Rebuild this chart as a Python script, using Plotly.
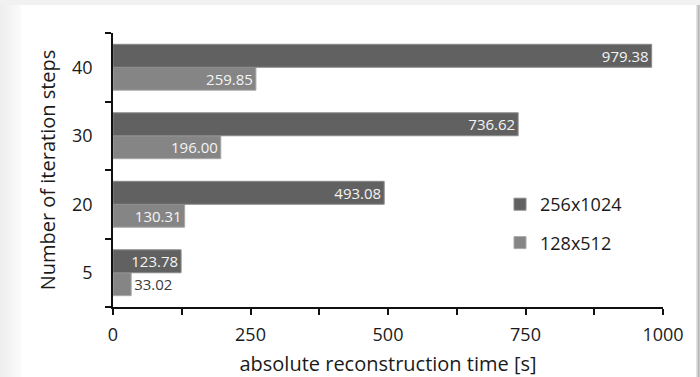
import plotly.graph_objects as go

# Iteration step counts (categories) and absolute reconstruction times in seconds
steps = ["5", "20", "30", "40"]
time_256x1024 = [123.78, 493.08, 736.62, 979.38]
time_128x512 = [33.02, 130.31, 196.00, 259.85]
series_names = ["256x1024", "128x512"]
x_tickvals = [0, 125, 250, 375, 500, 625, 750, 875, 1000]
x_ticktext = ["0", "", "250", "", "500", "", "750", "", "1000"]

FONT = "Open Sans"
TXT = "#1a1a1a"
W, H = 700, 377
L, R, T, B = 113, 37, 33, 70
PW, PH = W - L - R, H - T - B


def px(x):
    """Pixel column -> paper x."""
    return (x - L) / PW


def py(y):
    """Pixel row -> paper y."""
    return 1 - (y - T) / PH


def fmt(v):
    return f"{v:.2f}"


def bar(name, values, color, edge, rank, group):
    return go.Bar(
        name=name, y=steps, x=values, orientation="h",
        marker=dict(color=color, line=dict(color=edge, width=1)),
        text=[fmt(v) for v in values], textposition="auto",
        insidetextanchor="end", constraintext="none",
        insidetextfont=dict(family=FONT, size=15, color="#f4f4f4"),
        outsidetextfont=dict(family=FONT, size=15, color="#3a3a3a"),
        legendrank=rank, legendgroup=group,
    )


fig = go.Figure()
# first trace sits lowest inside each category group
fig.add_trace(bar(series_names[1], time_128x512, "#858585", "#a8a8a8", 2, "b"))
fig.add_trace(bar(series_names[0], time_256x1024, "#616161", "#8a8a8a", 1, "a"))

# Framed panel: light grey surround with a soft shadow on the right
shapes = []
shapes.append(dict(type="rect", xref="paper", yref="paper", layer="below",
                   x0=px(0), x1=px(W), y0=py(0), y1=py(H),
                   fillcolor="#f1f1f1", line=dict(width=0)))
left_greys = ["#eeeeee", "#f0f0f0", "#f2f2f2", "#f4f4f4", "#f6f6f6", "#f8f8f8", "#fafafa"]
for i, c in enumerate(left_greys):
    shapes.append(dict(type="rect", xref="paper", yref="paper", layer="below",
                       x0=px(i * 3), x1=px(i * 3 + 3), y0=py(5), y1=py(H),
                       fillcolor=c, line=dict(width=0)))
shapes.append(dict(type="rect", xref="paper", yref="paper", layer="below",
                   x0=px(21), x1=px(696), y0=py(5), y1=py(H),
                   fillcolor="white", line=dict(width=0)))
right_greys = ["#e4e4e4", "#cfcfcf", "#b8b8b8", "#c8c8c8"]
for i, c in enumerate(right_greys):
    shapes.append(dict(type="rect", xref="paper", yref="paper", layer="below",
                       x0=px(696 + i), x1=px(697 + i), y0=py(5), y1=py(H),
                       fillcolor=c, line=dict(width=0)))

fig.update_layout(
    width=W, height=H,
    margin=dict(l=L, r=R, t=T, b=B, pad=0),
    paper_bgcolor="white", plot_bgcolor="rgba(0,0,0,0)",
    barmode="group", bargap=0.33, bargroupgap=0,
    font=dict(family=FONT, size=18, color=TXT),
    shapes=shapes,
    showlegend=True,
    legend=dict(
        x=px(500), y=py(186), xanchor="left", yanchor="top",
        traceorder="grouped", tracegroupgap=12,
        bgcolor="rgba(0,0,0,0)", font=dict(family=FONT, size=18, color=TXT),
    ),
    xaxis=dict(
        range=[0, 1000], tickvals=x_tickvals, ticktext=x_ticktext,
        showgrid=False, zeroline=False, showline=True, linecolor="#111111", linewidth=1.5,
        ticks="outside", ticklen=6, tickwidth=1.5, tickcolor="#111111",
        ticklabelstandoff=5, automargin=False,
        tickfont=dict(family=FONT, size=18, color=TXT),
        title=dict(text="absolute reconstruction time [s]", standoff=17,
                   font=dict(family=FONT, size=20, color=TXT)),
        fixedrange=True,
    ),
    yaxis=dict(
        type="category", categoryorder="array", categoryarray=steps,
        range=[-0.5, 3.5], tickson="boundaries",
        showgrid=False, zeroline=False, showline=True, linecolor="#111111", linewidth=1.5,
        ticks="outside", ticklen=6, tickwidth=1.5, tickcolor="#111111",
        ticklabelstandoff=15, automargin=False,
        tickfont=dict(family=FONT, size=18, color=TXT),
        title=dict(text="Number of iteration steps", standoff=11,
                   font=dict(family=FONT, size=20, color=TXT)),
        fixedrange=True,
    ),
)

fig.write_html("out.html")
